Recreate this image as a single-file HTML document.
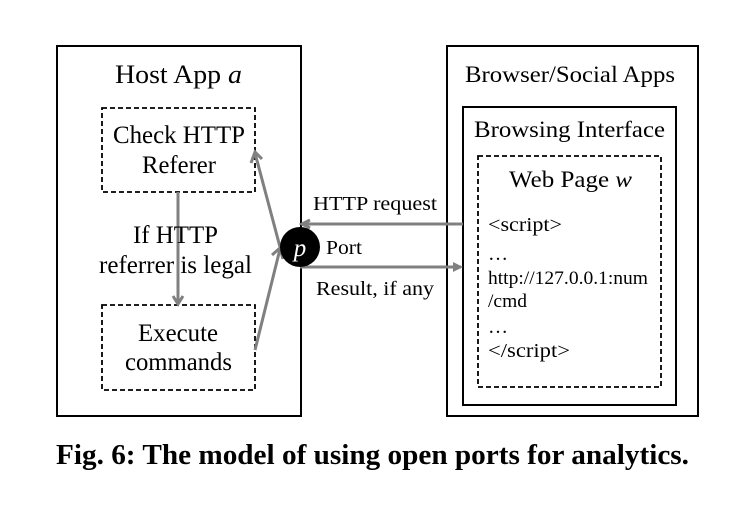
<!DOCTYPE html>
<html><head><style>body{margin:0;background:#fff}</style></head><body>
<svg width="753" height="511" xmlns="http://www.w3.org/2000/svg" font-family="Liberation Serif, serif">
<rect x="0" y="0" width="753" height="511" fill="#fff"/>
<g fill="none" stroke="#000" stroke-width="2">
<rect x="57" y="46" width="244" height="370"/>
<rect x="447" y="46" width="251" height="370"/>
<rect x="463" y="107" width="213" height="298"/>
</g>
<g fill="none" stroke="#000" stroke-width="1.8" stroke-dasharray="5,3">
<rect x="102" y="108" width="153" height="84"/>
<rect x="102" y="305" width="153" height="85"/>
<rect x="478" y="156" width="183" height="231"/>
</g>
<g stroke="#808080" stroke-width="3" fill="none">
<line x1="178" y1="192" x2="178" y2="303"/>
<polyline points="173,296 178,304 183,296"/>
<line x1="280" y1="247" x2="255" y2="153"/>
<polyline points="251,163 255,152 262,159"/>
<line x1="255" y1="350" x2="280" y2="249"/>
<polyline points="272,255 280,248 283,259"/>
<line x1="463" y1="224" x2="303" y2="224"/>
<polyline points="310,220 302,224 310,228"/>
<line x1="300" y1="267" x2="461" y2="267"/>
</g>
<polygon points="463,267 453,262 453,272" fill="#808080"/>
<circle cx="300" cy="247" r="20" fill="#000"/>
<text x="300" y="256" font-size="25" font-style="italic" fill="#fff" text-anchor="middle">p</text>
<g fill="#000" lengthAdjust="spacingAndGlyphs">
<text x="115" y="83" font-size="26" textLength="127" lengthAdjust="spacingAndGlyphs">Host App <tspan font-style="italic">a</tspan></text>
<text x="113" y="143" font-size="25" textLength="132" lengthAdjust="spacingAndGlyphs">Check HTTP</text>
<text x="142" y="173" font-size="25" textLength="74" lengthAdjust="spacingAndGlyphs">Referer</text>
<text x="133" y="243" font-size="25" textLength="85" lengthAdjust="spacingAndGlyphs">If HTTP</text>
<text x="99" y="273" font-size="25" textLength="153" lengthAdjust="spacingAndGlyphs">referrer is legal</text>
<text x="138" y="341" font-size="25" textLength="80" lengthAdjust="spacingAndGlyphs">Execute</text>
<text x="125" y="370" font-size="25" textLength="107" lengthAdjust="spacingAndGlyphs">commands</text>
<text x="465" y="82" font-size="23" textLength="210" lengthAdjust="spacingAndGlyphs">Browser/Social Apps</text>
<text x="474" y="137" font-size="23" textLength="191" lengthAdjust="spacingAndGlyphs">Browsing Interface</text>
<text x="509" y="187" font-size="23" textLength="123" lengthAdjust="spacingAndGlyphs">Web Page <tspan font-style="italic">w</tspan></text>
<text x="313" y="210" font-size="20" textLength="124" lengthAdjust="spacingAndGlyphs">HTTP request</text>
<text x="316" y="295" font-size="20" textLength="118" lengthAdjust="spacingAndGlyphs">Result, if any</text>
<text x="326" y="254" font-size="20" textLength="36" lengthAdjust="spacingAndGlyphs">Port</text>
<text x="488" y="231" font-size="20" textLength="74" lengthAdjust="spacingAndGlyphs">&lt;script&gt;</text>
<text x="488" y="260" font-size="20">…</text>
<text x="488" y="284" font-size="19" textLength="160" lengthAdjust="spacingAndGlyphs">http://127.0.0.1:num</text>
<text x="488" y="307" font-size="19" textLength="39" lengthAdjust="spacingAndGlyphs">/cmd</text>
<text x="488" y="333" font-size="20">…</text>
<text x="488" y="357" font-size="20" textLength="82" lengthAdjust="spacingAndGlyphs">&lt;/script&gt;</text>
</g>
<text x="56" y="464" font-size="28" font-weight="bold" textLength="633" lengthAdjust="spacingAndGlyphs">Fig. 6: The model of using open ports for analytics.</text>
</svg>
</body></html>
